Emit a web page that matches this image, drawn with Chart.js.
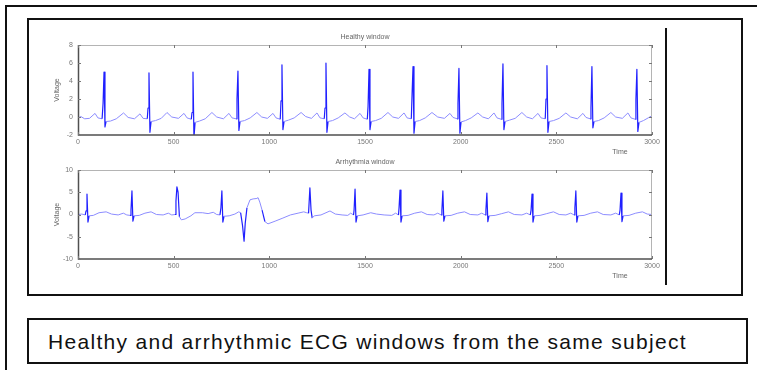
<!DOCTYPE html>
<html>
<head>
<meta charset="utf-8">
<title>ECG windows</title>
<script src="https://cdn.jsdelivr.net/npm/chart.js@4.4.1/dist/chart.umd.min.js"></script>
<style>
  html, body { margin: 0; padding: 0; background: #fff; }
  body { position: relative; width: 757px; height: 370px; overflow: hidden; font-family: "Liberation Sans", Arial, sans-serif; }
  .abs { position: absolute; box-sizing: border-box; }
  #outer { left: 5px; top: 5px; width: 800px; height: 420px; border: 2px solid #111; }
  #figbox { left: 27px; top: 18px; width: 716px; height: 278px; border: 2px solid #111; }
  #rule { left: 665px; top: 28px; width: 2px; height: 257px; background: #111; }
  #capbox { left: 27px; top: 318px; width: 721px; height: 46px; border: 2px solid #111; }
  #caption { left: 48px; top: 331px; font-size: 21px; line-height: 21px; letter-spacing: 1.3px; color: #111; white-space: nowrap; }
  canvas { position: absolute; left: 0; }
  #healthyChart { top: 20px; }
  #arrhythmiaChart { top: 145px; }
</style>
</head>
<body>
<div id="outer" class="abs"></div>
<div id="figbox" class="abs"></div>
<div id="rule" class="abs"></div>
<div id="capbox" class="abs"></div>
<div id="caption" class="abs">Healthy and arrhythmic ECG windows from the same subject</div>
<canvas id="healthyChart" width="680" height="140"></canvas>
<canvas id="arrhythmiaChart" width="680" height="140"></canvas>
<script>
// tick labels
const timeTicks = [0, 500, 1000, 1500, 2000, 2500, 3000];
const healthyTicks = [-2, 0, 2, 4, 6, 8];
const arrhythmiaTicks = [-10, -5, 0, 5, 10];

// healthy window (sample index, voltage)
const healthyTime = [
  0, 15, 35, 60, 89, 104, 126, 131, 136, 141, 147, 170, 200, 238, 262, 295, 324, 340, 362, 366,
  371, 376, 382, 405, 435, 465, 490, 525, 554, 570, 592, 596, 601, 606, 612, 635, 665, 700, 725, 760,
  789, 805, 827, 831, 836, 841, 847, 870, 900, 935, 960, 990, 1019, 1035, 1057, 1061, 1066, 1071, 1077, 1100,
  1130, 1166, 1190, 1220, 1249, 1265, 1287, 1291, 1296, 1301, 1307, 1330, 1360, 1395, 1420, 1445, 1474, 1490, 1512, 1516,
  1521, 1526, 1532, 1555, 1585, 1620, 1645, 1675, 1704, 1720, 1742, 1746, 1751, 1756, 1762, 1785, 1815, 1850, 1880, 1915,
  1944, 1960, 1982, 1986, 1991, 1996, 2002, 2025, 2055, 2090, 2115, 2145, 2174, 2190, 2212, 2216, 2221, 2226, 2232, 2255,
  2285, 2320, 2345, 2375, 2404, 2420, 2442, 2446, 2451, 2456, 2462, 2485, 2515, 2550, 2575, 2610, 2639, 2655, 2677, 2681,
  2686, 2691, 2697, 2720, 2750, 2785, 2810, 2845, 2874, 2890, 2912, 2916, 2921, 2926, 2932, 2955, 2980, 3000
];
const healthyVolt = [
  -0.1, 0.05, -0.2, -0.15, 0.4, -0.1, -0.2, 1.5, 5.0, -1.1, -0.5, -0.45, -0.2, 0.45, -0.05, -0.2, 0.35, -0.15, -0.2, 1.0,
  4.9, -1.7, -0.5, -0.4, -0.15, 0.5, 0.0, -0.15, 0.4, -0.1, -0.25, 0.5, 5.0, -2.3, -0.6, -0.45, -0.2, 0.5, 0.0, -0.2,
  0.4, -0.1, -0.2, 2.0, 5.1, -1.5, -0.5, -0.4, -0.1, 0.5, 0.0, -0.15, 0.4, -0.1, -0.25, 1.8, 5.8, -1.4, -0.5, -0.35,
  -0.1, 0.5, 0.05, -0.15, 0.45, -0.1, -0.2, 1.0, 6.0, -1.7, -0.5, -0.4, -0.1, 0.45, 0.0, -0.2, 0.4, -0.1, -0.25, 1.2,
  5.3, -1.4, -0.5, -0.4, -0.15, 0.5, 0.0, -0.15, 0.45, -0.1, -0.2, 2.5, 5.6, -1.8, -0.5, -0.4, -0.1, 0.5, 0.0, -0.15,
  0.4, -0.05, -0.2, 1.5, 5.4, -1.8, -0.55, -0.4, -0.1, 0.45, 0.0, -0.2, 0.45, -0.1, -0.25, 1.5, 5.9, -1.4, -0.5, -0.35,
  -0.15, 0.5, 0.0, -0.2, 0.4, -0.1, -0.2, 2.0, 5.7, -1.7, -0.5, -0.4, -0.15, 0.45, 0.0, -0.2, 0.4, -0.05, -0.2, 1.0,
  5.6, -1.2, -0.5, -0.4, -0.1, 0.5, 0.0, -0.15, 0.45, -0.1, -0.25, 2.0, 5.3, -1.6, -0.6, -0.4, -0.1, 0.15
];

// arrhythmia window (sample index, voltage), with the ectopic beat near 870
const arrhythmiaTime = [
  0, 20, 38, 42, 47, 52, 58, 80, 110, 147, 175, 210, 237, 255, 272, 277, 282, 287, 293, 320,
  350, 382, 410, 445, 472, 490, 507, 512, 517, 523, 530, 540, 560, 590, 611, 650, 680, 707, 725, 742,
  747, 752, 757, 763, 790, 820, 840, 850, 860, 868, 874, 883, 899, 915, 935, 941, 950, 962, 977, 993,
  1030, 1071, 1110, 1150, 1180, 1195, 1205, 1212, 1218, 1224, 1235, 1270, 1317, 1345, 1380, 1410, 1425, 1440, 1443, 1448,
  1453, 1459, 1490, 1530, 1560, 1600, 1640, 1660, 1675, 1678, 1683, 1688, 1694, 1725, 1760, 1795, 1825, 1860, 1880, 1898,
  1902, 1907, 1912, 1918, 1950, 1985, 2020, 2050, 2090, 2110, 2128, 2132, 2137, 2142, 2148, 2180, 2215, 2250, 2280, 2320,
  2345, 2364, 2368, 2373, 2378, 2384, 2415, 2450, 2485, 2515, 2550, 2575, 2593, 2597, 2602, 2607, 2613, 2645, 2680, 2715,
  2745, 2785, 2810, 2829, 2833, 2838, 2843, 2849, 2880, 2915, 2950, 2975, 3000
];
const arrhythmiaVolt = [
  0.0, 0.1, -0.1, 0.8, 4.6, -1.7, -0.3, -0.2, 0.4, 0.6, 0.1, -0.1, 0.3, -0.1, -0.2, 1.0, 5.3, -1.5, -0.3, -0.2,
  0.3, 0.6, 0.0, -0.1, 0.3, -0.1, 0.0, 3.0, 6.2, 5.0, -0.5, -1.2, -1.0, -0.3, 0.4, 0.4, 0.2, 0.5, 0.0, -0.1,
  1.5, 5.3, -1.7, -0.4, -0.3, 0.1, 0.6, 0.4, -2.5, -6.0, -2.0, 1.5, 3.3, 3.5, 3.6, 3.8, 2.8, 1.0, -1.6, -2.1,
  -1.5, -0.8, -0.1, 0.3, 0.6, 0.4, 0.3, 6.0, 1.0, -0.8, -0.3, -0.1, 0.8, 0.1, -0.1, -0.2, 0.3, -0.1, 1.0, 5.7,
  -1.7, -0.3, -0.1, 0.4, 0.1, -0.1, -0.2, 0.3, -0.1, 1.5, 5.5, -1.7, -0.3, -0.2, 0.3, 0.6, 0.0, -0.1, 0.3, -0.1,
  1.0, 5.3, -1.5, -0.3, -0.2, 0.3, 0.6, 0.0, -0.1, 0.3, -0.1, 1.0, 4.8, -1.6, -0.3, -0.2, 0.2, 0.6, 0.0, -0.1,
  0.3, -0.1, 1.0, 4.6, -1.7, -0.3, -0.2, 0.2, 0.6, 0.0, -0.1, 0.3, -0.1, 1.5, 5.3, -1.7, -0.3, -0.2, 0.3, 0.6,
  0.0, -0.1, 0.3, -0.1, 1.0, 4.8, -1.6, -0.3, -0.2, 0.3, 0.6, 0.1, 0.0
];

(function () {
  const FONT = '"Liberation Sans", Arial, sans-serif';
  const LIGHT = "#8c8cff";
  const DARK = "#2020ff";

  // MATLAB-ish box, inward ticks and the small axis texts
  const frameLabels = {
    id: "frameLabels",
    afterDraw(chart, args, opts) {
      const { ctx, chartArea: a, scales } = chart;
      ctx.save();

      ctx.lineWidth = 1;
      ctx.strokeStyle = "#b4b4b4";
      ctx.beginPath();
      ctx.moveTo(a.left, a.top + 0.5);
      ctx.lineTo(a.right, a.top + 0.5);
      ctx.moveTo(a.right - 0.5, a.top);
      ctx.lineTo(a.right - 0.5, a.bottom);
      ctx.stroke();

      ctx.lineWidth = 1.5;
      ctx.strokeStyle = "#505050";
      ctx.beginPath();
      ctx.moveTo(a.left + 0.5, a.top);
      ctx.lineTo(a.left + 0.5, a.bottom);
      ctx.lineTo(a.right, a.bottom);
      ctx.stroke();

      ctx.lineWidth = 1;
      ctx.strokeStyle = "#777";
      ctx.beginPath();
      scales.x.ticks.forEach((t) => {
        const px = Math.round(scales.x.getPixelForValue(t.value)) + 0.5;
        ctx.moveTo(px, a.top);
        ctx.lineTo(px, a.top + 3);
        ctx.moveTo(px, a.bottom);
        ctx.lineTo(px, a.bottom - 3);
      });
      scales.y.ticks.forEach((t) => {
        const py = Math.round(scales.y.getPixelForValue(t.value)) + 0.5;
        ctx.moveTo(a.left, py);
        ctx.lineTo(a.left + 3, py);
        ctx.moveTo(a.right, py);
        ctx.lineTo(a.right - 3, py);
      });
      ctx.stroke();

      ctx.fillStyle = "#666";
      ctx.font = "7px " + FONT;
      ctx.textAlign = "center";
      ctx.textBaseline = "middle";
      ctx.fillText(opts.title, (a.left + a.right) / 2, a.top - 8);
      ctx.fillText(opts.xLabel, a.right - 32, a.bottom + 17);
      ctx.translate(a.left - 21, (a.top + a.bottom) / 2);
      ctx.rotate(-Math.PI / 2);
      ctx.fillText(opts.yLabel, 0, 0);
      ctx.restore();
    },
  };

  function steep(c) {
    const dx = Math.abs(c.p1.x - c.p0.x);
    const dy = Math.abs(c.p1.y - c.p0.y);
    return dy > 4 * Math.max(dx, 0.5);
  }

  function makeChart(id, times, volts, yTicks, title, xHeight) {
    const canvas = document.getElementById(id);
    if (!canvas) return null;
    const points = times.map((t, i) => ({ x: t, y: volts[i] }));

    return new Chart(canvas.getContext("2d"), {
      type: "line",
      data: {
        datasets: [
          {
            label: title,
            data: points,
            borderColor: LIGHT,
            borderWidth: 1,
            borderJoinStyle: "round",
            pointRadius: 0,
            tension: 0,
            segment: {
              borderColor: (c) => (steep(c) ? DARK : LIGHT),
              borderWidth: (c) => (steep(c) ? 1.2 : 1),
            },
          },
        ],
      },
      plugins: [frameLabels],
      options: {
        responsive: false,
        animation: false,
        layout: { padding: { left: 0, right: 28, top: 25, bottom: 0 } },
        plugins: {
          legend: { display: false },
          tooltip: { enabled: false },
          frameLabels: { title: title, xLabel: "Time", yLabel: "Voltage" },
        },
        scales: {
          x: {
            type: "linear",
            min: timeTicks[0],
            max: timeTicks[timeTicks.length - 1],
            grid: { display: false, drawTicks: false },
            border: { display: false },
            afterBuildTicks: (s) => { s.ticks = timeTicks.map((v) => ({ value: v })); },
            afterFit: (s) => { s.height = xHeight; },
            ticks: {
              color: "#777",
              font: { size: 7, family: FONT },
              padding: 3,
              maxRotation: 0,
              callback: (v) => String(v),
            },
          },
          y: {
            min: yTicks[0],
            max: yTicks[yTicks.length - 1],
            grid: { display: false, drawTicks: false },
            border: { display: false },
            afterBuildTicks: (s) => { s.ticks = yTicks.map((v) => ({ value: v })); },
            afterFit: (s) => { s.width = 78; },
            ticks: {
              color: "#777",
              font: { size: 7, family: FONT },
              padding: 5,
              callback: (v) => String(v),
            },
          },
        },
      },
    });
  }

  makeChart("healthyChart", healthyTime, healthyVolt, healthyTicks, "Healthy window", 25);
  makeChart("arrhythmiaChart", arrhythmiaTime, arrhythmiaVolt, arrhythmiaTicks, "Arrhythmia window", 26);
})();
</script>
</body>
</html>
